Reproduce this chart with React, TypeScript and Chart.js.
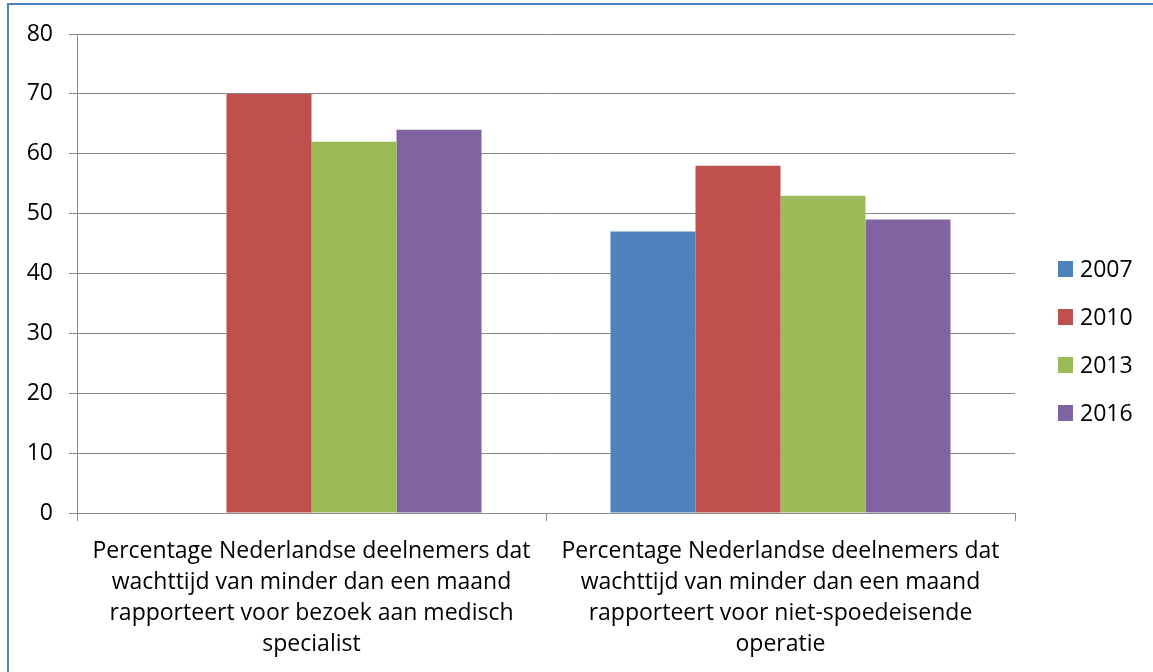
import React, { useEffect, useRef } from 'react';
import { Chart, registerables } from 'chart.js';

Chart.register(...registerables);

const categories: string[][] = [
  ['Percentage Nederlandse deelnemers dat', 'wachttijd van minder dan een maand', 'rapporteert voor bezoek aan medisch', 'specialist'],
  ['Percentage Nederlandse deelnemers dat', 'wachttijd van minder dan een maand', 'rapporteert voor niet-spoedeisende', 'operatie'],
];
const seriesLabels = ['2007', '2010', '2013', '2016'];
const values2007: (number | null)[] = [null, 47];
const values2010: (number | null)[] = [70, 58];
const values2013: (number | null)[] = [62, 53];
const values2016: (number | null)[] = [64, 49];
const seriesColors = ['#4F81BD', '#C0504D', '#9BBB59', '#8064A2'];
const yMin = 0;
const yMax = 80;
const yStep = 10;

const FONT = '"Open Sans", Lato, sans-serif';
const FONT_SIZE = 23;
const GRID = '#8a8a8a';

const sideLegend = {
  id: 'sideLegend',
  afterDraw(chart: any) {
    const ctx = chart.ctx as CanvasRenderingContext2D;
    const ds = chart.data.datasets;
    const spacing = 48;
    const centerY = chart.height / 2 + 5;
    const top = centerY - (spacing * (ds.length - 1)) / 2;
    const boxX = chart.chartArea.right + 43;
    ctx.save();
    ctx.font = `${FONT_SIZE}px ${FONT}`;
    ctx.textBaseline = 'middle';
    ctx.textAlign = 'left';
    ds.forEach((d: any, i: number) => {
      const y = top + i * spacing;
      ctx.fillStyle = d.backgroundColor;
      ctx.fillRect(boxX, y - 8, 15, 16);
      ctx.fillStyle = '#000';
      ctx.fillText(d.label, boxX + 22, y + 1);
    });
    ctx.restore();
  },
};

export default function App() {
  const ref = useRef<HTMLCanvasElement | null>(null);
  useEffect(() => {
    if (!ref.current) return;
    const all = [values2007, values2010, values2013, values2016];
    const chart = new Chart(ref.current, {
      type: 'bar',
      data: {
        labels: categories,
        datasets: seriesLabels.map((l, i) => ({
          label: l,
          data: all[i],
          backgroundColor: seriesColors[i],
          borderWidth: 0,
          barPercentage: 1,
          categoryPercentage: 0.725,
        })),
      },
      options: {
        responsive: false,
        animation: false,
        layout: { padding: { left: 0, right: 138, top: 34, bottom: 0 } },
        plugins: {
          legend: { display: false },
          tooltip: { enabled: false },
          title: { display: false },
        },
        scales: {
          x: {
            offset: true,
            afterFit(scale: any) {
              scale.height = 159;
            },
            grid: {
              offset: true,
              drawOnChartArea: false,
              drawTicks: true,
              tickLength: 8,
              color: GRID,
              lineWidth: 1,
            },
            border: { display: true, color: GRID, width: 1 },
            ticks: {
              color: '#000',
              font: { family: FONT, size: FONT_SIZE, lineHeight: 31 / FONT_SIZE },
              padding: 15,
              maxRotation: 0,
              autoSkip: false,
            },
          },
          y: {
            min: yMin,
            max: yMax,
            afterFit(scale: any) {
              scale.width = 77;
            },
            grid: {
              drawOnChartArea: true,
              drawTicks: true,
              tickLength: 8,
              color: GRID,
              lineWidth: 1,
            },
            border: { display: true, color: GRID, width: 1 },
            ticks: {
              stepSize: yStep,
              color: '#000',
              font: { family: FONT, size: FONT_SIZE },
              padding: 16,
            },
          },
        },
      },
      plugins: [sideLegend],
    });
    return () => chart.destroy();
  }, []);

  return (
    <div style={{ position: 'fixed', left: 0, top: 0, width: 1153, height: 672, overflow: 'hidden', background: '#fff' }}>
      <canvas ref={ref} width={1153} height={672} style={{ position: 'absolute', left: 0, top: 0 }} />
      <div
        style={{
          position: 'absolute',
          left: 7,
          top: 3,
          width: 1300,
          height: 900,
          border: '2px solid #4F81BD',
          boxSizing: 'border-box',
          pointerEvents: 'none',
        }}
      />
    </div>
  );
}
